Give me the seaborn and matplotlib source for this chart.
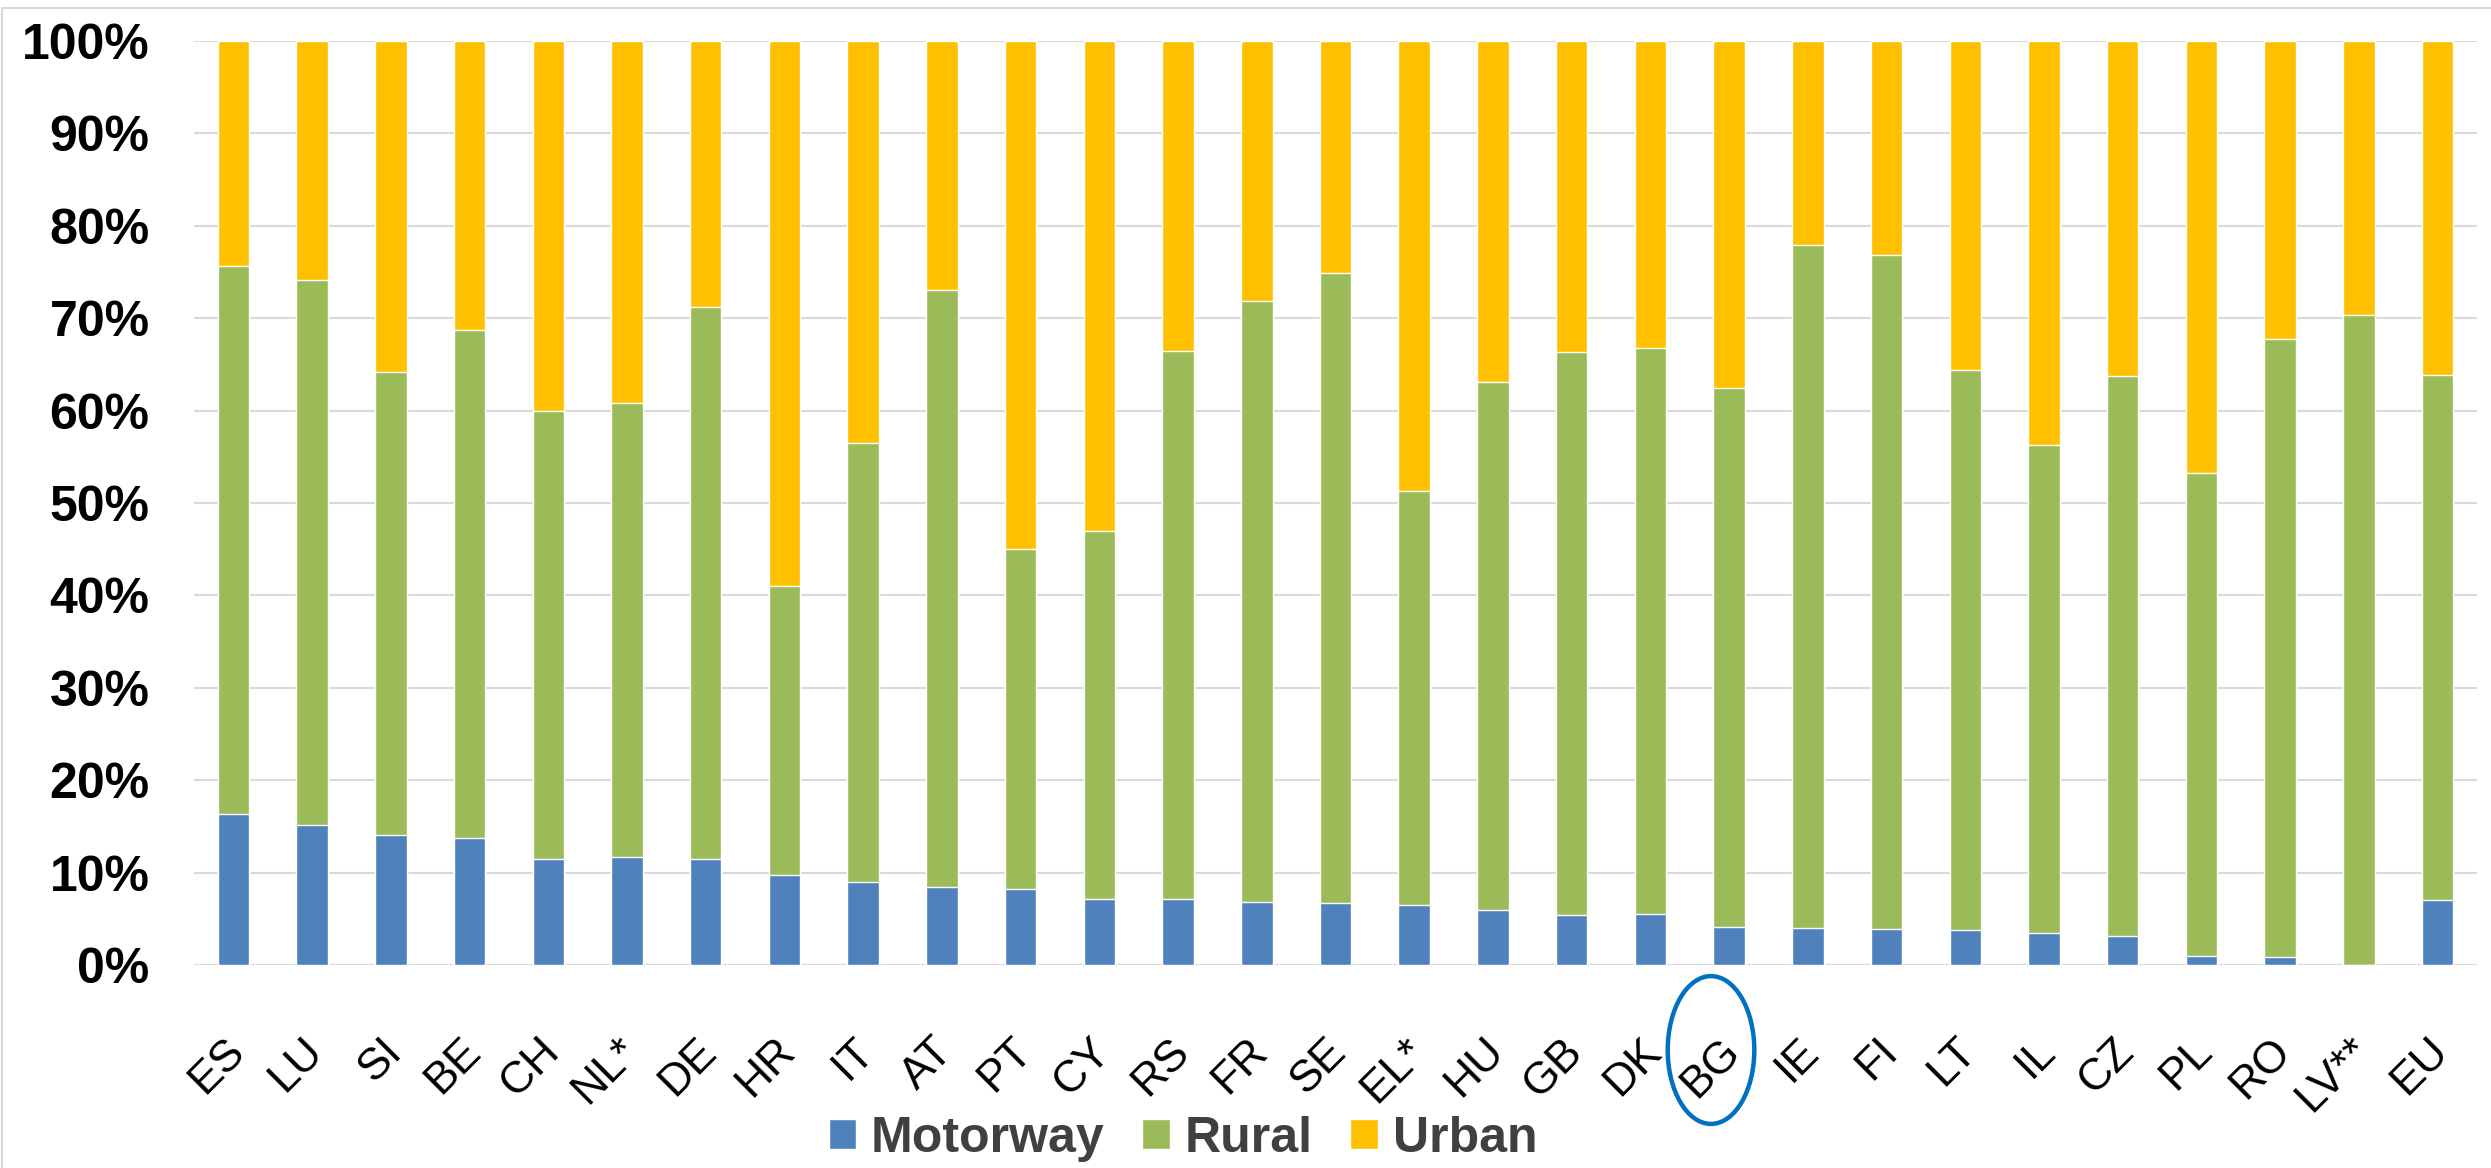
import numpy as np
import pandas as pd
import matplotlib
matplotlib.use('Agg')
import matplotlib.pyplot as plt
import matplotlib.transforms as mtransforms
from matplotlib.patches import Patch, Ellipse
from matplotlib.lines import Line2D
import seaborn as sns

# Data (percent shares per country)
countries = ['ES', 'LU', 'SI', 'BE', 'CH', 'NL*', 'DE', 'HR', 'IT', 'AT', 'PT', 'CY', 'RS', 'FR',
             'SE', 'EL*', 'HU', 'GB', 'DK', 'BG', 'IE', 'FI', 'LT', 'IL', 'CZ', 'PL', 'RO', 'LV**', 'EU']
motorway = [16.3, 15.1, 14.1, 13.7, 11.5, 11.7, 11.5, 9.7, 9.0, 8.4, 8.2, 7.1, 7.1, 6.8,
            6.7, 6.5, 5.9, 5.4, 5.5, 4.1, 4.0, 3.9, 3.8, 3.5, 3.1, 1.0, 0.9, 0.0, 7.0]
rural = [59.4, 59.0, 50.1, 55.0, 48.5, 49.1, 59.7, 31.3, 47.5, 64.7, 36.8, 39.9, 59.4, 65.1,
         68.2, 44.8, 57.2, 60.9, 61.3, 58.4, 73.9, 72.9, 60.6, 52.8, 60.6, 52.3, 66.9, 70.3, 56.8]
urban = [24.3, 25.9, 35.8, 31.3, 40.0, 39.2, 28.8, 59.0, 43.5, 26.9, 55.0, 53.0, 33.5, 28.1,
         25.1, 48.7, 36.9, 33.7, 33.2, 37.5, 22.1, 23.2, 35.6, 43.7, 36.3, 46.7, 32.2, 29.7, 36.2]
highlight = 'BG'

df = pd.DataFrame({'country': countries, 'Motorway': motorway, 'Rural': rural, 'Urban': urban})
df['mr'] = df['Motorway'] + df['Rural']
df['total'] = df['mr'] + df['Urban']

blue = '#4F81BD'
green = '#9BBB59'
orange = '#FFC000'

sns.set_style('white')
plt.rcParams['font.family'] = ['Liberation Sans', 'DejaVu Sans']

fig = plt.figure(figsize=(24.91, 11.68), dpi=100)
ax = fig.add_axes([194 / 2491, 1 - 965 / 1168, (2477 - 194) / 2491, (965 - 41) / 1168])

# stacked bars drawn as layered cumulative totals
sns.barplot(data=df, x='country', y='total', color=orange, width=0.4, saturation=1, ax=ax, zorder=2)
sns.barplot(data=df, x='country', y='mr', color=green, width=0.4, saturation=1, ax=ax, zorder=3)
sns.barplot(data=df, x='country', y='Motorway', color=blue, width=0.4, saturation=1, ax=ax, zorder=4)

ax.set_ylim(0, 100)
ax.set_xlim(-0.5, len(countries) - 0.5)
ax.set_yticks(range(0, 101, 10))
ax.set_yticklabels([f'{v}%' for v in range(0, 101, 10)], fontsize=36, fontweight='bold', color='black')
ax.tick_params(axis='y', length=0, pad=32)
ax.tick_params(axis='x', length=0, pad=47)
ax.set_xticks(range(len(countries)))
ax.set_xticklabels(countries, rotation=45, ha='right', fontsize=32, color='black')
offset = mtransforms.ScaledTranslation(0.19, 0, fig.dpi_scale_trans)
for lab in ax.get_xticklabels():
    lab.set_transform(lab.get_transform() + offset)
ax.set_xlabel('')
ax.set_ylabel('')
ax.yaxis.grid(True, color='#D9D9D9', linewidth=1.5, zorder=0)
ax.set_axisbelow(True)
for s in ax.spines.values():
    s.set_visible(False)

# circle around highlighted country label
i = countries.index(highlight)
ax.add_patch(Ellipse((i - 0.23, -9.2), 1.10, 16.0, transform=ax.transData, fill=False,
                     edgecolor='#0070C0', linewidth=3.2, clip_on=False, zorder=5))

handles = [Patch(facecolor=blue, label='Motorway'),
           Patch(facecolor=green, label='Rural'),
           Patch(facecolor=orange, label='Urban')]
leg = fig.legend(handles=handles, loc='center', bbox_to_anchor=(1183 / 2491, 1 - 1139 / 1168), ncol=3,
                 frameon=False, prop={'size': 36, 'weight': 'bold'}, handlelength=0.55, handleheight=0.55,
                 handletextpad=0.3, columnspacing=0.75, labelcolor='#404040')

# light chart-area border
fig.add_artist(Line2D([0.0008, 0.0008], [0, 1 - 8 / 1168], color='#D9D9D9', linewidth=1.5, transform=fig.transFigure))
fig.add_artist(Line2D([0.0008, 1], [1 - 8 / 1168, 1 - 8 / 1168], color='#D9D9D9', linewidth=1.5, transform=fig.transFigure))

fig.savefig('out.png', dpi=100)
